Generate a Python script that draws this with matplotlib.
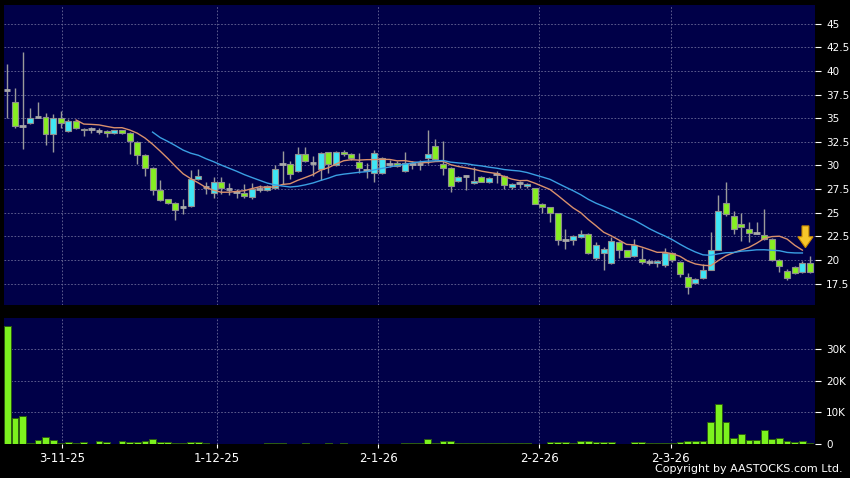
import numpy
import pandas
import matplotlib
matplotlib.use("Agg")
import matplotlib.pyplot as plt
from matplotlib.patches import Polygon
from matplotlib.ticker import FuncFormatter

# daily bars, oldest first
opens = [38.0, 36.7, 34.2, 34.5, 35.15, 35.1, 33.3, 35.0, 33.65, 34.75,
         33.9, 33.85, 33.65, 33.6, 33.4, 33.7, 33.4, 32.5, 31.1, 29.7,
         27.4, 26.4, 26.0, 25.55, 25.7, 28.55, 27.7, 27.05, 28.3, 27.5,
         27.2, 27.05, 26.65, 27.5, 27.4, 27.6, 30.15, 30.1, 29.4, 31.2,
         30.3, 29.6, 31.4, 30.05, 31.45, 31.2, 30.4, 29.5, 29.2, 29.25,
         30.2, 30.3, 29.4, 30.1, 30.2, 30.8, 32.1, 30.2, 29.7, 28.35,
         28.9, 28.1, 28.75, 28.2, 29.05, 28.9, 27.7, 28.1, 27.8, 27.6,
         25.9, 25.6, 24.95, 22.1, 22.1, 22.4, 22.75, 20.2, 20.7, 19.65,
         21.9, 21.0, 20.4, 20.15, 19.8, 19.65, 19.45, 20.75, 19.8, 18.15,
         17.55, 18.1, 18.95, 21.1, 26.0, 24.6, 23.75, 23.25, 22.85, 22.65,
         22.2, 20.0, 18.85, 19.3, 18.7, 19.7]
highs = [40.7, 38.2, 42.0, 36.05, 36.75, 35.5, 35.4, 35.75, 34.9, 34.85,
         34.0, 34.1, 33.95, 33.7, 33.8, 33.75, 33.5, 32.6, 31.2, 29.8,
         28.45, 26.5, 26.1, 26.4, 29.5, 29.6, 28.2, 28.8, 28.8, 28.1,
         27.5, 28.0, 28.1, 27.9, 27.9, 30.05, 31.55, 30.5, 31.9, 31.9,
         31.0, 31.4, 31.45, 31.5, 31.6, 31.3, 31.3, 30.3, 31.65, 30.9,
         30.6, 30.5, 31.45, 30.5, 30.6, 33.75, 32.8, 32.6, 29.8, 28.9,
         29.0, 29.85, 28.9, 28.8, 29.4, 29.0, 28.1, 28.4, 28.1, 27.65,
         26.0, 25.65, 25.0, 23.3, 22.6, 23.2, 22.8, 21.95, 21.4, 22.45,
         22.0, 21.1, 22.25, 21.3, 20.1, 20.0, 21.3, 20.8, 19.9, 18.6,
         18.1, 19.6, 23.0, 26.85, 28.3, 25.2, 24.95, 24.0, 24.0, 25.35,
         22.3, 20.1, 19.0, 19.4, 19.9, 20.4]
lows = [35.0, 34.0, 31.7, 34.35, 35.0, 32.2, 31.45, 34.0, 33.5, 33.9,
        33.1, 33.4, 33.35, 33.05, 33.35, 33.35, 31.2, 30.15, 28.9, 26.9,
        26.2, 25.9, 24.2, 24.9, 25.6, 28.5, 27.0, 26.6, 27.0, 26.9,
        26.6, 26.6, 26.5, 27.2, 27.3, 27.5, 28.0, 28.6, 29.3, 30.4,
        28.9, 28.45, 29.2, 29.9, 31.0, 30.6, 29.2, 28.7, 28.3, 29.1,
        29.8, 29.8, 29.3, 29.6, 29.5, 30.2, 30.6, 29.0, 27.2, 28.2,
        27.4, 28.0, 28.2, 28.1, 28.1, 27.5, 27.5, 27.6, 27.6, 25.9,
        24.95, 24.05, 21.6, 21.2, 21.6, 22.3, 20.6, 20.0, 18.95, 19.6,
        20.2, 20.3, 20.3, 19.6, 19.5, 19.2, 19.3, 19.8, 18.2, 16.4,
        17.4, 18.0, 18.9, 21.0, 24.7, 22.7, 22.05, 21.95, 22.7, 22.1,
        19.9, 18.75, 17.9, 18.5, 18.6, 18.6]
closes = [38.0, 34.2, 34.2, 35.0, 35.15, 33.3, 35.0, 34.5, 34.75, 34.0,
          33.7, 33.85, 33.65, 33.4, 33.7, 33.4, 32.6, 31.1, 29.7, 27.4,
          26.35, 26.05, 25.3, 25.55, 28.55, 28.9, 27.7, 28.2, 27.6, 27.5,
          27.2, 26.75, 27.5, 27.5, 27.8, 29.65, 30.15, 29.05, 31.2, 30.5,
          30.3, 31.35, 30.1, 31.45, 31.2, 30.8, 29.7, 29.5, 31.3, 30.75,
          30.2, 29.9, 30.3, 30.1, 30.2, 31.2, 30.65, 29.7, 27.8, 28.8,
          28.9, 28.35, 28.3, 28.7, 29.05, 27.9, 28.0, 28.1, 28.05, 25.9,
          25.55, 24.95, 22.1, 22.1, 22.5, 22.75, 20.7, 21.6, 21.2, 22.05,
          21.1, 20.35, 21.6, 19.75, 19.8, 19.9, 20.75, 20.0, 18.5, 17.1,
          18.0, 18.95, 21.1, 25.2, 24.85, 23.25, 23.45, 22.85, 22.85, 22.2,
          20.0, 19.35, 18.05, 18.65, 19.7, 18.75]
volumes = [37200, 8200, 8950, 400, 1400, 2200, 1200, 200, 600, 200,
           500, 100, 900, 600, 100, 800, 500, 500, 800, 1600,
           500, 500, 300, 400, 700, 500, 300, 150, 100, 100,
           150, 100, 100, 150, 200, 400, 400, 100, 100, 300,
           100, 100, 300, 100, 300, 100, 150, 100, 100, 150,
           100, 100, 200, 300, 200, 1500, 300, 900, 800, 400,
           300, 300, 300, 300, 300, 300, 300, 200, 200, 100,
           100, 500, 500, 500, 400, 800, 900, 600, 600, 500,
           100, 100, 600, 600, 300, 300, 400, 400, 700, 900,
           900, 900, 6950, 12700, 6950, 1800, 3000, 1200, 1400, 4300,
           1700, 1900, 1000, 700, 900, 300]

date_labels = ["3-11-25", "1-12-25", "2-1-26", "2-2-26", "2-3-26"]
date_pos = [7.2, 27.4, 48.5, 69.6, 86.8]   # in bar units

price_ticks = [17.5, 20, 22.5, 25, 27.5, 30, 32.5, 35, 37.5, 40, 42.5, 45]
vol_ticks = [0, 10000, 20000, 30000]

bg = "#000048"
grid_c = "#6a6a98"
up_c = "#3fe6f5"
down_c = "#86ee22"
edge_c = "#8f8f8f"

o = numpy.array(opens)
h = numpy.array(highs)
l = numpy.array(lows)
c = numpy.array(closes)
v = numpy.array(volumes)
idx = numpy.arange(len(c))

fig = plt.figure(figsize=(8.5, 4.78), dpi=100, facecolor="black")
ax = fig.add_axes([4/850, 173/478, 811/850, 300/478], facecolor=bg)
ax2 = fig.add_axes([4/850, 34/478, 811/850, 126/478], facecolor=bg)

# ---- candles ----
ax.vlines(idx, l, h, color="#9a9a9a", lw=1, zorder=2)
up = c > o
dn = c < o
flat = c == o
ax.bar(idx[up], c[up] - o[up], bottom=o[up], width=0.78,
       color=up_c, edgecolor=edge_c, lw=0.8, zorder=3)
ax.bar(idx[dn], o[dn] - c[dn], bottom=c[dn], width=0.78,
       color=down_c, edgecolor=edge_c, lw=0.8, zorder=3)
ax.hlines(c[flat], idx[flat] - 0.42, idx[flat] + 0.42, color="#a8a8a8", lw=2, zorder=3)

# moving averages (last bar not included, like the source)
ma10 = pandas.Series(c).rolling(10).mean().values
ma20 = pandas.Series(c).rolling(20).mean().values
ax.plot(idx[:-1], ma10[:-1], color="#d9906c", lw=1, zorder=4)
ax.plot(idx[:-1], ma20[:-1], color="#3a9fe2", lw=1, zorder=4)

# yellow marker arrow over the latest bars
xa = 104.4
arrow = Polygon([(xa - 0.45, 23.6), (xa + 0.45, 23.6), (xa + 0.45, 22.45),
                 (xa + 1.0, 22.45), (xa, 21.3), (xa - 1.0, 22.45),
                 (xa - 0.45, 22.45)], closed=True,
                facecolor="#f7c62a", edgecolor="#c98a00", lw=0.8, zorder=6)
ax.add_patch(arrow)

ax.set_xlim(-0.43, 105.65)
ax.set_ylim(15.23, 46.98)
ax.set_yticks(price_ticks)
ax.yaxis.set_major_formatter(FuncFormatter(lambda y, p: f"{y:g}"))
ax.yaxis.tick_right()
ax.tick_params(axis="y", colors="white", labelsize=7.5, length=4, pad=4)
ax.set_xticks(date_pos)
ax.tick_params(axis="x", length=0, labelbottom=False)

# ---- volume ----
ax2.bar(idx, v, width=0.88, color="#7cf21e", edgecolor="#2c5c12", lw=0.7, zorder=3)
ax2.set_xlim(-0.43, 105.65)
ax2.set_ylim(0, 39700)
ax2.set_yticks(vol_ticks)
ax2.yaxis.set_major_formatter(FuncFormatter(lambda y, p: "0" if y == 0 else f"{y/1000:g}K"))
ax2.yaxis.tick_right()
ax2.tick_params(axis="y", colors="white", labelsize=7.5, length=4, pad=4)
ax2.set_xticks(date_pos)
ax2.set_xticklabels(date_labels)
ax2.tick_params(axis="x", colors="white", labelsize=8.5, length=3, pad=3)

for a in (ax, ax2):
    a.grid(True, color=grid_c, linestyle=(0, (2, 2)), lw=0.6, zorder=0)
    a.set_axisbelow(True)
    for s in a.spines.values():
        s.set_visible(False)

fig.text(843/850, 1 - 469/478, "Copyright by AASTOCKS.com Ltd.", color="white",
         fontsize=8, ha="right", va="center")

fig.savefig("out.png", dpi=100, facecolor="black")
